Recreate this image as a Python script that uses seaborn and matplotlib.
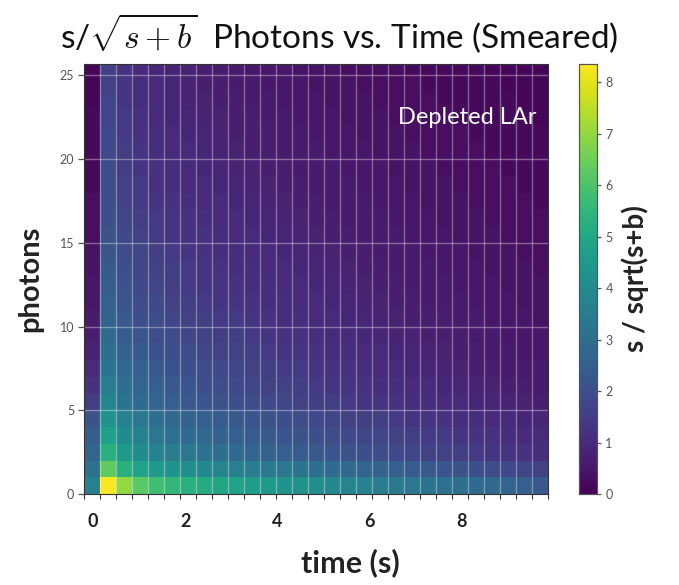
import numpy as np
import pandas as pd
import seaborn as sns
import matplotlib.pyplot as plt
from matplotlib.ticker import FixedLocator

# s/sqrt(s+b) per (photon bin, time bin); one list per photon count, 29 time bins each
photons_00 = [3.6, 8.3, 7.0, 6.2, 5.8, 5.5, 5.3, 5.1, 4.9, 4.8, 4.6, 4.5, 4.3, 4.2, 4.1, 3.9, 3.8, 3.7, 3.5, 3.4, 3.3, 3.2, 3.1, 3.0, 2.9, 2.8, 2.7, 2.5, 2.3]
photons_01 = [3.1, 6.3, 5.3, 4.8, 4.5, 4.3, 4.1, 3.9, 3.8, 3.6, 3.5, 3.4, 3.3, 3.2, 3.0, 2.9, 2.8, 2.7, 2.6, 2.5, 2.4, 2.3, 2.2, 2.1, 2.0, 1.9, 1.8, 1.7, 1.6]
photons_02 = [2.7, 5.3, 4.5, 4.0, 3.7, 3.5, 3.3, 3.1, 3.0, 2.9, 2.7, 2.6, 2.5, 2.4, 2.3, 2.2, 2.1, 2.0, 1.9, 1.8, 1.7, 1.6, 1.6, 1.5, 1.4, 1.3, 1.3, 1.2, 1.1]
photons_03 = [2.4, 4.7, 4.0, 3.6, 3.3, 3.1, 2.9, 2.8, 2.6, 2.5, 2.4, 2.3, 2.2, 2.1, 2.0, 1.9, 1.8, 1.7, 1.7, 1.6, 1.5, 1.4, 1.4, 1.3, 1.2, 1.2, 1.1, 1.0, 1.0]
photons_04 = [2.1, 4.3, 3.6, 3.3, 3.0, 2.8, 2.6, 2.5, 2.4, 2.3, 2.2, 2.1, 2.0, 1.9, 1.8, 1.7, 1.6, 1.5, 1.5, 1.4, 1.3, 1.3, 1.2, 1.1, 1.1, 1.0, 1.0, 0.9, 0.9]
photons_05 = [1.5, 3.8, 3.2, 2.9, 2.7, 2.5, 2.3, 2.2, 2.1, 2.0, 1.9, 1.8, 1.7, 1.6, 1.5, 1.5, 1.4, 1.3, 1.3, 1.2, 1.1, 1.1, 1.0, 1.0, 0.9, 0.9, 0.8, 0.8, 0.7]
photons_06 = [1.2, 3.5, 3.0, 2.7, 2.5, 2.3, 2.2, 2.0, 1.9, 1.8, 1.7, 1.6, 1.6, 1.5, 1.4, 1.3, 1.3, 1.2, 1.1, 1.1, 1.0, 1.0, 0.9, 0.9, 0.8, 0.8, 0.7, 0.7, 0.6]
photons_07 = [1.0, 3.2, 2.8, 2.5, 2.3, 2.1, 2.0, 1.9, 1.8, 1.7, 1.6, 1.5, 1.4, 1.4, 1.3, 1.2, 1.2, 1.1, 1.0, 1.0, 0.9, 0.9, 0.8, 0.8, 0.7, 0.7, 0.6, 0.6, 0.6]
photons_08 = [0.8, 3.0, 2.6, 2.3, 2.1, 2.0, 1.9, 1.7, 1.6, 1.6, 1.5, 1.4, 1.3, 1.3, 1.2, 1.1, 1.1, 1.0, 1.0, 0.9, 0.9, 0.8, 0.8, 0.7, 0.7, 0.6, 0.6, 0.5, 0.5]
photons_09 = [0.7, 2.8, 2.4, 2.2, 2.0, 1.9, 1.7, 1.6, 1.5, 1.5, 1.4, 1.3, 1.2, 1.2, 1.1, 1.0, 1.0, 0.9, 0.9, 0.8, 0.8, 0.7, 0.7, 0.7, 0.6, 0.6, 0.5, 0.5, 0.5]
photons_10 = [0.6, 2.6, 2.3, 2.0, 1.9, 1.7, 1.6, 1.5, 1.4, 1.4, 1.3, 1.2, 1.1, 1.1, 1.0, 1.0, 0.9, 0.9, 0.8, 0.8, 0.7, 0.7, 0.7, 0.6, 0.6, 0.5, 0.5, 0.5, 0.4]
photons_11 = [0.5, 2.5, 2.2, 1.9, 1.8, 1.6, 1.5, 1.4, 1.3, 1.3, 1.2, 1.1, 1.1, 1.0, 1.0, 0.9, 0.9, 0.8, 0.8, 0.7, 0.7, 0.6, 0.6, 0.6, 0.5, 0.5, 0.5, 0.4, 0.4]
photons_12 = [0.5, 2.4, 2.1, 1.8, 1.7, 1.5, 1.4, 1.3, 1.3, 1.2, 1.1, 1.1, 1.0, 1.0, 0.9, 0.9, 0.8, 0.8, 0.7, 0.7, 0.6, 0.6, 0.6, 0.5, 0.5, 0.5, 0.4, 0.4, 0.4]
photons_13 = [0.4, 2.3, 2.0, 1.7, 1.6, 1.5, 1.4, 1.3, 1.2, 1.1, 1.1, 1.0, 1.0, 0.9, 0.9, 0.8, 0.8, 0.7, 0.7, 0.6, 0.6, 0.6, 0.5, 0.5, 0.5, 0.4, 0.4, 0.4, 0.3]
photons_14 = [0.4, 2.2, 1.9, 1.7, 1.5, 1.4, 1.3, 1.2, 1.1, 1.1, 1.0, 1.0, 0.9, 0.9, 0.8, 0.8, 0.7, 0.7, 0.6, 0.6, 0.6, 0.5, 0.5, 0.5, 0.4, 0.4, 0.4, 0.3, 0.3]
photons_15 = [0.3, 2.1, 1.8, 1.6, 1.4, 1.3, 1.2, 1.2, 1.1, 1.0, 1.0, 0.9, 0.9, 0.8, 0.8, 0.7, 0.7, 0.6, 0.6, 0.6, 0.5, 0.5, 0.5, 0.4, 0.4, 0.4, 0.3, 0.3, 0.3]
photons_16 = [0.3, 2.0, 1.7, 1.5, 1.4, 1.3, 1.2, 1.1, 1.0, 1.0, 0.9, 0.9, 0.8, 0.8, 0.7, 0.7, 0.6, 0.6, 0.6, 0.5, 0.5, 0.5, 0.4, 0.4, 0.4, 0.3, 0.3, 0.3, 0.3]
photons_17 = [0.3, 2.0, 1.6, 1.4, 1.3, 1.2, 1.1, 1.0, 1.0, 0.9, 0.9, 0.8, 0.8, 0.7, 0.7, 0.6, 0.6, 0.6, 0.5, 0.5, 0.5, 0.4, 0.4, 0.4, 0.3, 0.3, 0.3, 0.3, 0.2]
photons_18 = [0.2, 1.9, 1.6, 1.4, 1.2, 1.1, 1.0, 1.0, 0.9, 0.9, 0.8, 0.8, 0.7, 0.7, 0.6, 0.6, 0.6, 0.5, 0.5, 0.5, 0.4, 0.4, 0.4, 0.3, 0.3, 0.3, 0.3, 0.2, 0.2]
photons_19 = [0.2, 1.9, 1.5, 1.3, 1.2, 1.1, 1.0, 0.9, 0.9, 0.8, 0.8, 0.7, 0.7, 0.6, 0.6, 0.6, 0.5, 0.5, 0.5, 0.4, 0.4, 0.4, 0.3, 0.3, 0.3, 0.3, 0.2, 0.2, 0.2]
photons_20 = [0.2, 1.8, 1.5, 1.3, 1.1, 1.0, 1.0, 0.9, 0.8, 0.8, 0.7, 0.7, 0.6, 0.6, 0.6, 0.5, 0.5, 0.5, 0.4, 0.4, 0.4, 0.3, 0.3, 0.3, 0.3, 0.2, 0.2, 0.2, 0.2]
photons_21 = [0.2, 1.8, 1.4, 1.2, 1.1, 1.0, 0.9, 0.9, 0.8, 0.7, 0.7, 0.7, 0.6, 0.6, 0.5, 0.5, 0.5, 0.4, 0.4, 0.4, 0.3, 0.3, 0.3, 0.3, 0.2, 0.2, 0.2, 0.2, 0.2]
photons_22 = [0.2, 1.7, 1.4, 1.2, 1.0, 0.9, 0.9, 0.8, 0.8, 0.7, 0.7, 0.6, 0.6, 0.5, 0.5, 0.5, 0.4, 0.4, 0.4, 0.3, 0.3, 0.3, 0.3, 0.2, 0.2, 0.2, 0.2, 0.2, 0.1]
photons_23 = [0.1, 1.7, 1.3, 1.1, 1.0, 0.9, 0.8, 0.8, 0.7, 0.7, 0.6, 0.6, 0.5, 0.5, 0.5, 0.4, 0.4, 0.4, 0.3, 0.3, 0.3, 0.3, 0.2, 0.2, 0.2, 0.2, 0.2, 0.1, 0.1]
photons_24 = [0.1, 1.6, 1.3, 1.1, 1.0, 0.9, 0.8, 0.7, 0.7, 0.6, 0.6, 0.5, 0.5, 0.5, 0.4, 0.4, 0.4, 0.3, 0.3, 0.3, 0.3, 0.2, 0.2, 0.2, 0.2, 0.2, 0.1, 0.1, 0.1]
photons_25 = [0.1, 1.6, 1.2, 1.0, 0.9, 0.8, 0.8, 0.7, 0.6, 0.6, 0.5, 0.5, 0.5, 0.4, 0.4, 0.4, 0.3, 0.3, 0.3, 0.3, 0.2, 0.2, 0.2, 0.2, 0.2, 0.1, 0.1, 0.1, 0.1]

# time binning (seconds)
time_start = -0.195
time_bin_width = 0.347
time_ticks = [0, 2, 4, 6, 8]
photon_ticks = [0, 5, 10, 15, 20, 25]
snr_ticks = [0, 1, 2, 3, 4, 5, 6, 7, 8]

rows = [photons_00, photons_01, photons_02, photons_03, photons_04, photons_05,
        photons_06, photons_07, photons_08, photons_09, photons_10, photons_11,
        photons_12, photons_13, photons_14, photons_15, photons_16, photons_17,
        photons_18, photons_19, photons_20, photons_21, photons_22, photons_23,
        photons_24, photons_25]
n_time = len(photons_00)
time_centers = time_start + time_bin_width * (np.arange(n_time) + 0.5)
snr = pd.DataFrame(rows, index=np.arange(len(rows)), columns=np.round(time_centers, 3))

plt.rcParams['mathtext.fontset'] = 'cm'
plt.rcParams['font.family'] = ['Lato', 'DejaVu Sans']

fig = plt.figure(figsize=(6.79, 5.85), dpi=100)
ax = fig.add_axes([84 / 679, 91 / 585, 464 / 679, 430 / 585])
cax = fig.add_axes([579 / 679, 91 / 585, 18 / 679, 430 / 585])

sns.heatmap(snr, ax=ax, cbar_ax=cax, cmap='viridis', vmin=0, vmax=8.35,
            xticklabels=False, yticklabels=False)

# photons increase upward; the top bin is partly shown
ax.set_ylim(0, 25.68)
ax.set_xlim(0, n_time)

# x: tick labels in seconds, small ticks on every time-bin edge
ax.xaxis.set_major_locator(FixedLocator([(t - time_start) / time_bin_width for t in time_ticks]))
ax.set_xticklabels([str(t) for t in time_ticks], fontsize=13, fontweight='bold', color='#222222')
ax.xaxis.set_minor_locator(FixedLocator(np.arange(0, n_time + 1)))
ax.tick_params(axis='x', which='major', length=0, pad=14)
ax.tick_params(axis='x', which='minor', length=3.5, width=0.9, color='#444444')

ax.yaxis.set_major_locator(FixedLocator(photon_ticks))
ax.set_yticklabels([str(p) for p in photon_ticks], fontsize=9, color='#555555')
ax.tick_params(axis='y', which='major', length=4, width=0.9, color='#555555', pad=3)

# light grid: every time-bin edge, every 5 photons
for edge in range(1, n_time):
    ax.axvline(edge, color='white', lw=1.0, alpha=0.35)
for p in photon_ticks[1:]:
    ax.axhline(p, color='white', lw=1.0, alpha=0.35)

for side in ['left', 'bottom', 'right', 'top']:
    ax.spines[side].set_visible(True)
    ax.spines[side].set_color('#333333')
    ax.spines[side].set_linewidth(0.8)

ax.set_xlabel('time (s)', fontsize=22, fontweight='bold', color='#222222')
ax.xaxis.set_label_coords(0.575, -0.125)
ax.set_ylabel('photons', fontsize=21, fontweight='bold', color='#222222', labelpad=12)

ax.text(0.975, 0.875, 'Depleted LAr', transform=ax.transAxes, ha='right', va='center',
        color='white', fontsize=17)

# colour bar
cax.yaxis.set_major_locator(FixedLocator(snr_ticks))
cax.set_yticklabels([str(v) for v in snr_ticks], fontsize=9, color='#555555')
cax.tick_params(axis='y', length=3, width=0.9, color='#555555', pad=3)
for s in cax.spines.values():
    s.set_visible(True)
    s.set_color('#555555')
    s.set_linewidth(0.8)
cax.set_ylabel('s / sqrt(s+b)', fontsize=20, fontweight='bold', color='#222222', labelpad=6)

fig.text(0.5, 0.943, r'$\mathregular{s/}\sqrt{s+b}$  Photons vs. Time (Smeared)',
         ha='center', va='center', fontsize=24, color='#111111')

fig.savefig('out.png', dpi=100)
